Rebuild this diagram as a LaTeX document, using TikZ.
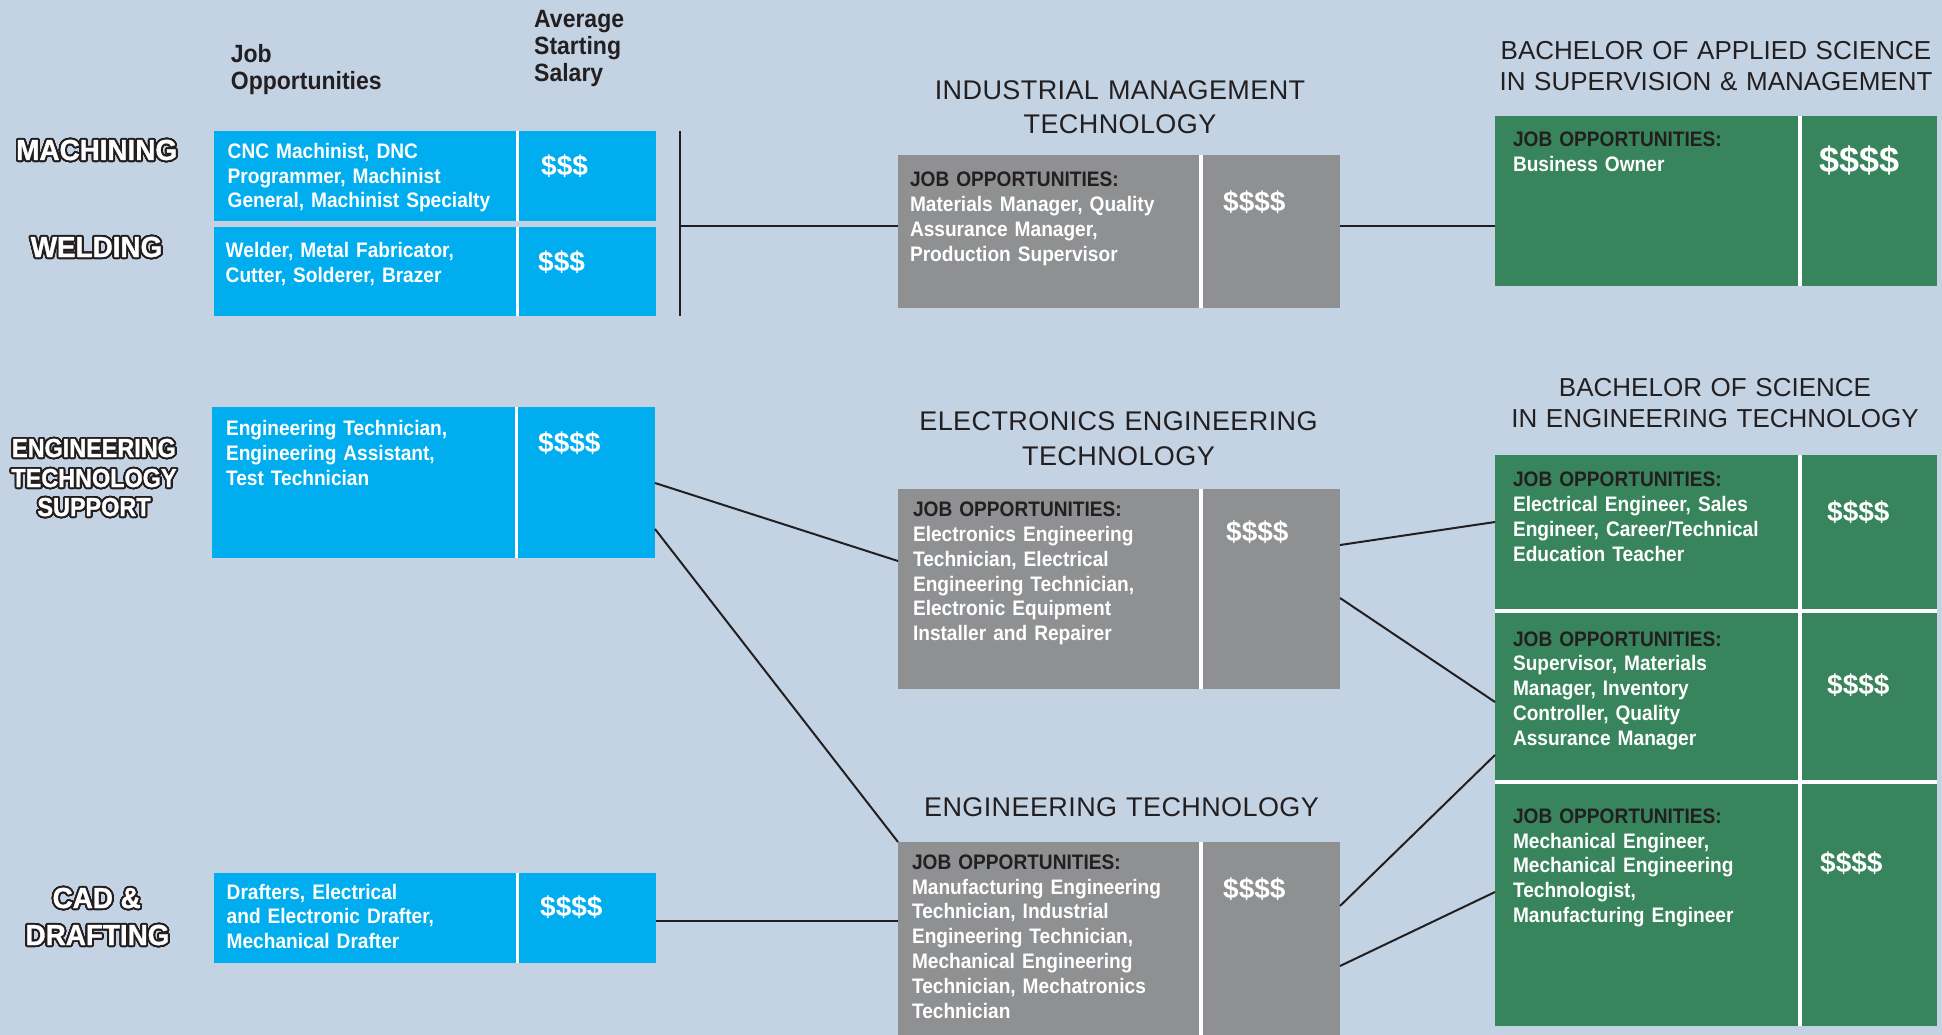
\documentclass[tikz,border=0pt]{standalone}
\usepackage{fontspec}
\usepackage{contour}
\usetikzlibrary{calc}
\setmainfont{Liberation Sans}
\newfontfamily\cellfont[FakeStretch=0.91]{Liberation Sans}
\newfontfamily\hdrfont[FakeStretch=0.92]{Liberation Sans}
\newfontfamily\lblfont[FakeStretch=0.96,FakeBold=1.2]{Liberation Sans}
\newfontfamily\lblnarrow[FakeStretch=0.9,FakeBold=1.2]{Liberation Sans}
\newfontfamily\ttlfont[LetterSpace=1.5]{Liberation Sans}
\newfontfamily\ttlfontb{Liberation Sans}
\definecolor{bg}{RGB}{196,211,227}
\definecolor{cyanbox}{RGB}{0,174,239}
\definecolor{greybox}{RGB}{143,144,146}
\definecolor{greenbox}{RGB}{56,132,92}
\definecolor{ink}{RGB}{35,31,32}
\contourlength{1.9pt}
\contournumber{32}
\newcommand\olbl[1]{\contour{ink}{#1}}
\newcommand\jobhd{{\color{ink}JOB OPPORTUNITIES:}}
\begin{document}
\begin{tikzpicture}[x=1pt,y=-1pt,
  cell/.style={rectangle, inner sep=0pt, outer sep=0pt, anchor=north west, minimum width=442pt},
  bluecell/.style={cell, fill=cyanbox},
  greycell/.style={cell, fill=greybox},
  greencell/.style={cell, fill=greenbox},
  sepline/.style={draw=white, line width=4pt},
  bsepline/.style={draw=white, line width=3.5pt},
  conn/.style={draw=ink, line width=2pt},
  jobtxt/.style={anchor=base west, inner sep=0pt, outer sep=0pt, text=white, text width=320pt, align=left, font=\cellfont\bfseries\fontsize{21}{24.8}\selectfont},
  dollar/.style={anchor=base west, inner sep=0pt, text=white, font=\bfseries\fontsize{28}{30}\selectfont},
  bigdollar/.style={anchor=base west, inner sep=0pt, text=white, font=\bfseries\fontsize{36}{38}\selectfont},
  hdr/.style={anchor=base west, inner sep=0pt, text=ink, text width=200pt, align=left, font=\hdrfont\bfseries\fontsize{25}{27}\selectfont},
  lbl/.style={anchor=base, inner sep=0pt, text=white, font=\lblfont\bfseries\fontsize{29}{32}\selectfont},
  lbln/.style={anchor=base, inner sep=0pt, text=white, font=\lblnarrow\bfseries\fontsize{26}{29}\selectfont},
  midttl/.style={anchor=base, inner sep=0pt, text=ink, text width=520pt, align=center, font=\ttlfont\fontsize{27}{34.7}\selectfont},
  rightttl/.style={anchor=base, inner sep=0pt, text=ink, text width=470pt, align=center, font=\ttlfontb\fontsize{26}{31.5}\selectfont}
]
\fill[bg] (0,0) rectangle (1942,1035);
\useasboundingbox (0,0) rectangle (1942,1035);

% column headers
\node[hdr] (hjob) at (230.7,62.7) {Job\\Opportunities};
\node[hdr] (havg) at (534,27.3) {Average\\Starting\\Salary};

% program labels
\node[lbl] (lmach) at (96.7,160) {\olbl{MACHINING}};
\node[lbl] (lweld) at (96.5,257) {\olbl{WELDING}};
\node[lbln] (lets1) at (94,457) {\olbl{ENGINEERING}};
\node[lbln] (lets2) at (94,487) {\olbl{TECHNOLOGY}};
\node[lbln] (lets3) at (94,516) {\olbl{SUPPORT}};
\node[lbl] (lcad1) at (96.7,908) {\olbl{CAD \&}};
\node[lbl] (lcad2) at (97.5,945) {\olbl{DRAFTING}};

% titles
\node[midttl] (timt) at (1120,99.3) {INDUSTRIAL MANAGEMENT\\TECHNOLOGY};
\node[midttl] (teet) at (1118.5,430.7) {ELECTRONICS ENGINEERING\\TECHNOLOGY};
\node[midttl] (tet) at (1121.5,816.7) {ENGINEERING TECHNOLOGY};
\node[rightttl] (tbas) at (1716,59.3) {BACHELOR OF APPLIED SCIENCE\\IN SUPERVISION \& MANAGEMENT};
\node[rightttl] (tbs) at (1715,396) {BACHELOR OF SCIENCE\\IN ENGINEERING TECHNOLOGY};

% boxes
\node[bluecell, minimum height=90pt] (mach) at (214,131) {};
\node[bluecell, minimum height=89pt] (weld) at (214,227) {};
\node[bluecell, minimum width=443pt, minimum height=150.5pt] (ets) at (212,407) {};
\node[bluecell, minimum height=89.5pt] (cad) at (214,873) {};
\node[greycell, minimum height=152.5pt] (imt) at (898,155) {};
\node[greycell, minimum height=199.5pt] (eet) at (898,489) {};
\node[greycell, minimum height=193pt] (et) at (898,842) {};
\node[greencell, minimum height=169pt] (bas) at (1495,116.5) {};
\node[greencell, minimum height=156.5pt] (bs1) at (1495,454.5) {};
\node[greencell, minimum height=171pt] (bs2) at (1495,611) {};
\node[greencell, minimum height=244pt] (bs3) at (1495,782) {};

% white separators
\foreach \b in {mach,weld,cad}
  \draw[bsepline] ($(\b.north west)+(303.5,0)$) -- ($(\b.south west)+(303.5,0)$);
\draw[bsepline] ($(ets.north west)+(304.5,0)$) -- ($(ets.south west)+(304.5,0)$);
\foreach \b in {imt,eet,et}
  \draw[sepline] ($(\b.north west)+(303,0)$) -- ($(\b.south west)+(303,0)$);
\draw[sepline] ($(bas.north west)+(305,0)$) -- ($(bas.south west)+(305,0)$);
\draw[sepline] ($(bs1.north west)+(305,0)$) -- ($(bs3.south west)+(305,0)$);
\draw[sepline] (bs1.south west) -- (bs1.south east);
\draw[sepline] (bs2.south west) -- (bs2.south east);

% box texts: blue
\node[jobtxt] (xmach) at (227.7,158.3) {CNC Machinist, DNC\\Programmer, Machinist\\General, Machinist Specialty};
\node[dollar] (dmach) at (541,176) {\$\$\$};
\node[jobtxt] (xweld) at (225.7,257.7) {Welder, Metal Fabricator,\\Cutter, Solderer, Brazer};
\node[dollar] (dweld) at (538,271) {\$\$\$};
\node[jobtxt] (xets) at (226,435.7) {Engineering Technician,\\Engineering Assistant,\\Test Technician};
\node[dollar] (dets) at (538,452) {\$\$\$\$};
\node[jobtxt] (xcad) at (226.7,899) {Drafters, Electrical\\and Electronic Drafter,\\Mechanical Drafter};
\node[dollar] (dcad) at (540,916) {\$\$\$\$};

% box texts: grey
\node[jobtxt] (ximt) at (910,186.7) {\jobhd\\Materials Manager, Quality\\Assurance Manager,\\Production Supervisor};
\node[dollar] (dimt) at (1223,211.7) {\$\$\$\$};
\node[jobtxt] (xeet) at (913,516.7) {\jobhd\\Electronics Engineering\\Technician, Electrical\\Engineering Technician,\\Electronic Equipment\\Installer and Repairer};
\node[dollar] (deet) at (1226,541.7) {\$\$\$\$};
\node[jobtxt] (xet) at (912,869.3) {\jobhd\\Manufacturing Engineering\\Technician, Industrial\\Engineering Technician,\\Mechanical Engineering\\Technician, Mechatronics\\Technician};
\node[dollar] (det) at (1223,898) {\$\$\$\$};

% box texts: green
\node[jobtxt] (xbas) at (1513,146.7) {\jobhd\\Business Owner};
\node[bigdollar] (dbas) at (1819,173) {\$\$\$\$};
\node[jobtxt] (xbs1) at (1513,486.7) {\jobhd\\Electrical Engineer, Sales\\Engineer, Career/Technical\\Education Teacher};
\node[dollar] (dbs1) at (1827,521) {\$\$\$\$};
\node[jobtxt] (xbs2) at (1513,646) {\jobhd\\Supervisor, Materials\\Manager, Inventory\\Controller, Quality\\Assurance Manager};
\node[dollar] (dbs2) at (1827,694) {\$\$\$\$};
\node[jobtxt] (xbs3) at (1513,823.3) {\jobhd\\Mechanical Engineer,\\Mechanical Engineering\\Technologist,\\Manufacturing Engineer};
\node[dollar] (dbs3) at (1820,872) {\$\$\$\$};

% connectors
\coordinate (jt) at (680,131);
\coordinate (jb) at (680,316);
\coordinate (jm) at (680,226);
\draw[conn] (jt) -- (jb);
\draw[conn] (jm) -- (jm -| imt.west);
\draw[conn] (imt.east |- jm) -- (bas.west |- jm);
\draw[conn] (ets.east |- 0,483) -- (eet.west |- 0,561);
\draw[conn] (ets.east |- 0,529) -- (et.north west);
\draw[conn] (cad.east |- 0,921) -- (et.west |- 0,921);
\draw[conn] (eet.east |- 0,545) -- (bs1.west |- 0,522);
\draw[conn] (eet.east |- 0,598) -- (bs2.west |- 0,702);
\draw[conn] (et.east |- 0,906) -- (bs2.west |- 0,755);
\draw[conn] (et.east |- 0,966) -- (bs3.west |- 0,892);
\end{tikzpicture}
\end{document}
